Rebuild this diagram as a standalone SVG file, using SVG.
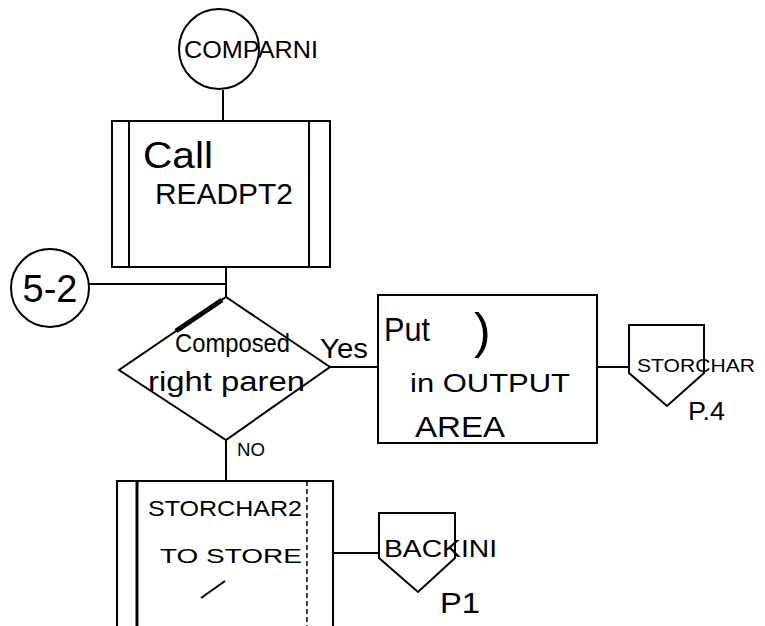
<svg xmlns="http://www.w3.org/2000/svg" width="765" height="626" viewBox="0 0 765 626">
<style>
.s{fill:#fff;stroke:#000;stroke-width:2}
.l{fill:none;stroke:#000;stroke-width:2}
.t{font-family:"Liberation Sans",Arial,sans-serif;fill:#000}
</style>
<rect width="765" height="626" fill="#fff"/>
<g id="connectors">
<line class="l" x1="223" y1="90" x2="223" y2="121"/>
<line class="l" x1="226" y1="267" x2="226" y2="297"/>
<line class="l" x1="89" y1="284" x2="226" y2="284"/>
<line class="l" x1="330" y1="367" x2="378" y2="367"/>
<line class="l" x1="226" y1="440" x2="226" y2="481"/>
<line class="l" x1="597" y1="367" x2="629" y2="367"/>
<line class="l" x1="333" y1="553" x2="379" y2="553"/>
</g>
<g id="compar">
<circle class="s" cx="219" cy="49" r="40"/>
<text class="t" x="184" y="58" font-size="24" textLength="134" lengthAdjust="spacingAndGlyphs">COMPARNI</text>
</g>
<g id="call">
<rect class="s" x="112" y="121" width="218" height="146"/>
<line class="l" x1="129" y1="121" x2="129" y2="267"/>
<line class="l" x1="309" y1="121" x2="309" y2="267"/>
<text class="t" x="143" y="168" font-size="36" textLength="70" lengthAdjust="spacingAndGlyphs">Call</text>
<text class="t" x="155" y="204" font-size="29" textLength="138" lengthAdjust="spacingAndGlyphs">READPT2</text>
</g>
<g id="c52">
<circle class="s" cx="50" cy="288" r="39"/>
<text class="t" x="50" y="302" font-size="38" text-anchor="middle">5-2</text>
</g>
<g id="decision">
<polygon class="s" points="226,297 330,367 226,440 119,370"/>
<line x1="176" y1="331" x2="222" y2="300" stroke="#000" stroke-width="5"/>
<text class="t" x="175" y="352" font-size="26" textLength="115" lengthAdjust="spacingAndGlyphs">Composed</text>
<text class="t" x="148" y="391" font-size="27" textLength="157" lengthAdjust="spacingAndGlyphs">right paren</text>
<text class="t" x="320" y="358" font-size="27" textLength="48" lengthAdjust="spacingAndGlyphs">Yes</text>
<text class="t" x="237" y="456" font-size="18" textLength="28" lengthAdjust="spacingAndGlyphs">NO</text>
</g>
<g id="put">
<rect class="s" x="378" y="295" width="219" height="148"/>
<text class="t" x="384" y="341" font-size="33" textLength="46" lengthAdjust="spacingAndGlyphs">Put</text>
<text class="t" x="474" y="348" font-size="50">)</text>
<text class="t" x="410" y="392" font-size="26" textLength="160" lengthAdjust="spacingAndGlyphs">in OUTPUT</text>
<text class="t" x="415" y="437" font-size="30" textLength="90" lengthAdjust="spacingAndGlyphs">AREA</text>
</g>
<g id="storchar">
<polygon class="s" points="629,325 704,325 704,373 667,406 629,373"/>
<text class="t" x="637" y="372" font-size="19" textLength="118" lengthAdjust="spacingAndGlyphs">STORCHAR</text>
<text class="t" x="688" y="420" font-size="26" textLength="37" lengthAdjust="spacingAndGlyphs">P.4</text>
</g>
<g id="storchar2">
<rect class="s" x="117" y="481" width="216" height="160"/>
<line x1="137" y1="481" x2="137" y2="641" stroke="#000" stroke-width="3"/>
<line x1="307" y1="481" x2="307" y2="641" stroke="#000" stroke-width="1.5" stroke-dasharray="5,3"/>
<text class="t" x="148" y="516" font-size="22" textLength="154" lengthAdjust="spacingAndGlyphs">STORCHAR2</text>
<text class="t" x="160" y="563" font-size="21" textLength="142" lengthAdjust="spacingAndGlyphs">TO   STORE</text>
<line class="l" x1="201" y1="598" x2="225" y2="581" stroke-width="3"/>
</g>
<g id="backini">
<polygon class="s" points="379,513 455,513 455,558 418,592 379,558"/>
<text class="t" x="384" y="557" font-size="24" textLength="113" lengthAdjust="spacingAndGlyphs">BACKINI</text>
<text class="t" x="440" y="613" font-size="29" textLength="40" lengthAdjust="spacingAndGlyphs">P1</text>
</g>
</svg>
